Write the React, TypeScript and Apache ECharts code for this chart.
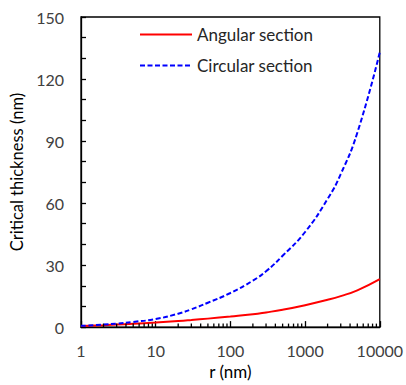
import React, { useEffect, useRef } from "react";
import * as echarts from "echarts";

const rValues = [1, 2, 3, 5, 10, 20, 30, 50, 100, 200, 300, 500, 1000, 2000, 3000, 5000, 10000];
const angularValues = [0.5, 0.9, 1.2, 1.6, 2.2, 2.9, 3.4, 4.1, 5.1, 6.2, 7.1, 8.4, 10.6, 13.2, 15.0, 17.8, 23.2];
const circularValues = [0.6, 1.2, 1.7, 2.5, 3.9, 6.5, 8.6, 11.8, 16.5, 22.5, 27, 34.5, 46, 62, 74, 94, 133];
const seriesNames = ["Angular section", "Circular section"];
const xMinorTicks = [
  2, 3, 4, 5, 6, 7, 8, 9,
  20, 30, 40, 50, 60, 70, 80, 90,
  200, 300, 400, 500, 600, 700, 800, 900,
  2000, 3000, 4000, 5000, 6000, 7000, 8000, 9000,
];
const yTickLabels = [0, 30, 60, 90, 120, 150];

const FONT = "Lato";

export default function App() {
  const ref = useRef<HTMLDivElement>(null);
  useEffect(() => {
    if (!ref.current) return;
    const chart = echarts.init(ref.current, null, { renderer: "svg" });
    chart.setOption({
      animation: false,
      grid: {
        left: 81,
        right: 24,
        top: 17,
        bottom: 57,
        show: true,
        borderColor: "#000",
        borderWidth: 1.3,
      },
      legend: {
        data: seriesNames,
        orient: "vertical",
        left: 139,
        top: 26,
        padding: 0,
        itemWidth: 52,
        itemHeight: 14,
        itemGap: 14,
        itemStyle: { opacity: 0 },
        textStyle: { fontFamily: FONT, fontSize: 17, color: "#262626" },
      },
      xAxis: {
        type: "log",
        logBase: 10,
        min: 1,
        max: 10000,
        name: "r (nm)",
        nameLocation: "middle",
        nameGap: 31,
        nameTextStyle: { fontFamily: FONT, fontSize: 17, color: "#000" },
        axisLine: { lineStyle: { color: "#000", width: 1.3 } },
        axisTick: { inside: true, length: 6, lineStyle: { color: "#000", width: 1.3 } },
        splitLine: { show: false },
        axisLabel: {
          margin: 15,
          fontFamily: FONT,
          fontSize: 16,
          color: "#404040",
          formatter: (v: number) => String(Math.round(v)),
        },
      },
      yAxis: {
        type: "value",
        min: 0,
        max: 150,
        interval: 30,
        name: "Critical thickness (nm)",
        nameLocation: "middle",
        nameGap: 50,
        nameTextStyle: { fontFamily: FONT, fontSize: 16.5, color: "#000" },
        axisLine: { show: true, lineStyle: { color: "#000", width: 1.3 } },
        axisTick: { inside: true, length: 5, lineStyle: { color: "#000", width: 1.3 } },
        minorTick: { show: true, splitNumber: 3, length: 5, lineStyle: { color: "#000", width: 1.3 } },
        splitLine: { show: false },
        axisLabel: {
          margin: 17,
          fontFamily: FONT,
          fontSize: 16,
          color: "#404040",
          formatter: (v: number) => (yTickLabels.includes(v) ? String(v) : ""),
        },
      },
      series: [
        {
          name: seriesNames[0],
          type: "line",
          data: rValues.map((r, i) => [r, angularValues[i]]),
          showSymbol: false,
          symbol: "none",
          smooth: 0.5,
          lineStyle: { color: "#ff0000", width: 2 },
          itemStyle: { color: "#ff0000" },
          z: 3,
        },
        {
          name: seriesNames[1],
          type: "line",
          data: rValues.map((r, i) => [r, circularValues[i]]),
          showSymbol: false,
          symbol: "none",
          smooth: 0.5,
          lineStyle: { color: "#0000ff", width: 2, type: [5, 2.5] },
          itemStyle: { color: "#0000ff" },
          z: 3,
        },
        {
          type: "custom",
          silent: true,
          data: xMinorTicks.map((v) => [v, 0]),
          encode: { x: 0, y: 1 },
          renderItem: (params: any, api: any) => {
            const p = api.coord([api.value(0), 0]);
            return {
              type: "line",
              shape: { x1: p[0], y1: p[1], x2: p[0], y2: p[1] - 3.5 },
              style: { stroke: "#000", lineWidth: 1.3 },
            };
          },
          z: 4,
        },
      ],
    });
    return () => chart.dispose();
  }, []);
  return (
    <div
      ref={ref}
      style={{ position: "absolute", left: 0, top: 0, width: 406, height: 385 }}
    />
  );
}
